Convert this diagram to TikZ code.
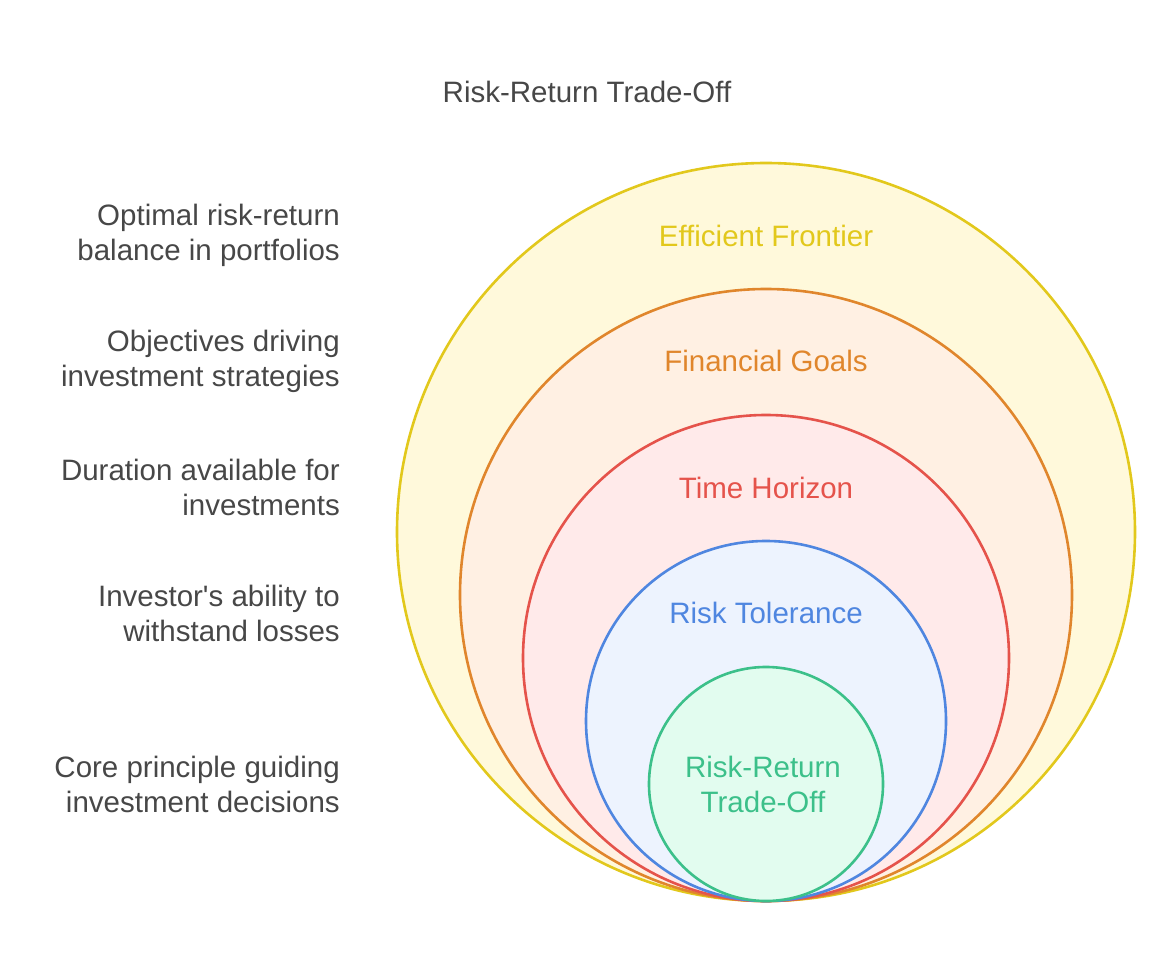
\documentclass[tikz,border=0pt]{standalone}
\usepackage{fontspec}
\setmainfont{Liberation Sans}[Ligatures=TeXOff]
\definecolor{txt}{HTML}{474747}
\definecolor{ys}{HTML}{E2C81C}\definecolor{yf}{HTML}{FFF9DB}
\definecolor{os}{HTML}{E0862C}\definecolor{of}{HTML}{FFF0E3}
\definecolor{rs}{HTML}{E5534B}\definecolor{rf}{HTML}{FFEAEA}
\definecolor{bs}{HTML}{4F86E0}\definecolor{bf}{HTML}{EDF3FE}
\definecolor{gs}{HTML}{3CC08A}\definecolor{gf}{HTML}{E2FCEF}
\begin{document}
\begin{tikzpicture}[x=1pt,y=-1pt,
  ring/.style={circle,line width=2.6pt,inner sep=0pt},
  lbl/.style={font=\fontsize{29.5}{35}\selectfont,align=center,inner sep=0pt},
  side/.style={font=\fontsize{29.5}{35}\selectfont,text=txt,align=right,anchor=east,inner sep=0pt}]
\useasboundingbox (0,0) rectangle (1173,976);
\node[ring,draw=ys,fill=yf,minimum size=738] (c1) at (766,532) {};
\node[ring,draw=os,fill=of,minimum size=612] (c2) at (766,595) {};
\node[ring,draw=rs,fill=rf,minimum size=486] (c3) at (766,658) {};
\node[ring,draw=bs,fill=bf,minimum size=360] (c4) at (766,721) {};
\node[ring,draw=gs,fill=gf,minimum size=234] (c5) at (766,784) {};
\node[lbl,text=ys] (l1) at (766,236) {Efficient Frontier};
\node[lbl,text=os] (l2) at (766,361) {Financial Goals};
\node[lbl,text=rs] (l3) at (766,488) {Time Horizon};
\node[lbl,text=bs] (l4) at (766,613) {Risk Tolerance};
\node[lbl,text=gs] (l5) at (763,784) {Risk-Return\\Trade-Off};
\node[lbl,text=txt] (title) at (587,92) {Risk-Return Trade-Off};
\node[side] (s1) at (340,235) {Optimal risk-return\\balance in portfolios};
\node[side] (s2) at (340,361) {Objectives driving\\investment strategies};
\node[side] (s3) at (340,487) {Duration available for\\investments};
\node[side] (s4) at (340,613) {Investor's ability to\\withstand losses};
\node[side] (s5) at (340,784) {Core principle guiding\\investment decisions};
\end{tikzpicture}
\end{document}
